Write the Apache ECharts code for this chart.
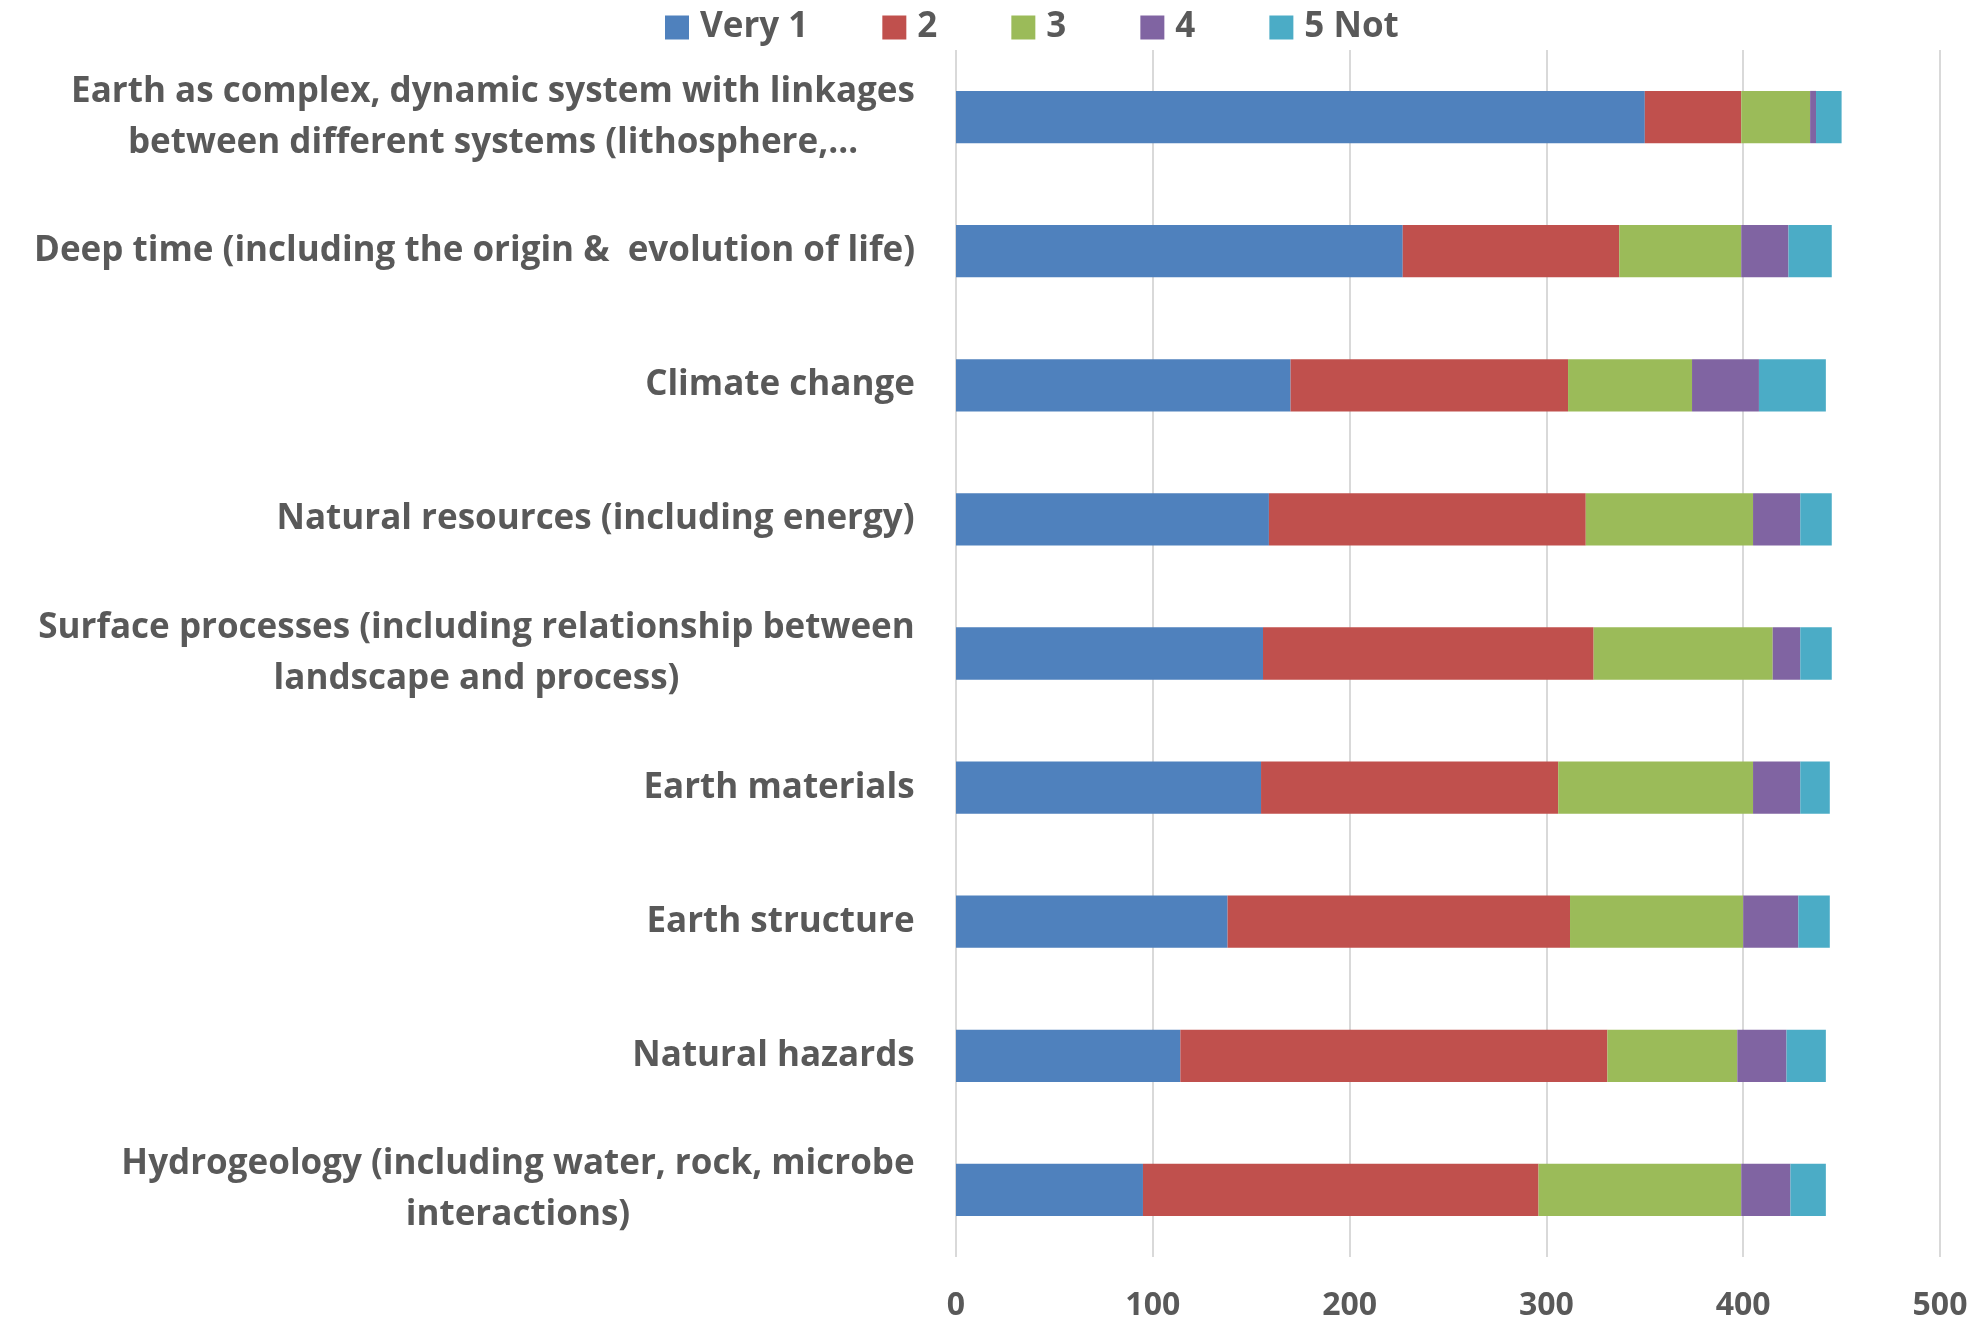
<!DOCTYPE html>
<html>
<head>
<meta charset="utf-8">
<title>Earth science topics – importance ratings</title>
<script src="https://cdn.jsdelivr.net/npm/echarts@6/dist/echarts.min.js"></script>
<style>
  html, body { margin: 0; padding: 0; background: #ffffff; }
  #chart { width: 1988px; height: 1322px; }
</style>
</head>
<body>
<div id="chart"></div>
<script>
// Topics, listed top to bottom
const categories = [
  'Earth as complex, dynamic system with linkages\nbetween different systems (lithosphere,…',
  'Deep time (including the origin &  evolution of life)',
  'Climate change',
  'Natural resources (including energy)',
  'Surface processes (including relationship between\nlandscape and process)',
  'Earth materials',
  'Earth structure',
  'Natural hazards',
  'Hydrogeology (including water, rock, microbe\ninteractions)'
];

// Number of responses per rating (1 = very important ... 5 = not important)
const seriesNames = ['Very 1', '2', '3', '4', '5 Not'];
const rating1 = [350, 227, 170, 159, 156, 155, 138, 114, 95];
const rating2 = [49, 110, 141, 161, 168, 151, 174, 217, 201];
const rating3 = [35, 62, 63, 85, 91, 99, 88, 66, 103];
const rating4 = [3, 24, 34, 24, 14, 24, 28, 25, 25];
const rating5 = [13, 22, 34, 16, 16, 15, 16, 20, 18];

// Value axis ticks
const axisMin = 0;
const axisMax = 500;
const axisStep = 100;

const colors = ['#4F81BD', '#C0504D', '#9BBB59', '#8064A2', '#4BACC6'];
const textColor = '#595959';
const fontFamily = 'Open Sans';
const fontSize = 35;
const tickFontSize = 32;
const fontWeight = 'bold';

// Multi-line labels: the block is right-aligned to the axis, each line centred
// within it, so each label gets a rich style as wide as its longest line.
const measureCtx = document.createElement('canvas').getContext('2d');
measureCtx.font = fontWeight + ' ' + fontSize + 'px "' + fontFamily + '"';
const labelRich = {};
categories.forEach(function (label, i) {
  const widest = Math.max.apply(null, label.split('\n').map(function (line) {
    return measureCtx.measureText(line).width;
  }));
  labelRich['c' + i] = {
    width: Math.ceil(widest) + 2,
    align: 'center',
    fontFamily: fontFamily,
    fontSize: fontSize,
    fontWeight: fontWeight,
    color: textColor,
    lineHeight: 51
  };
});

const seriesData = [rating1, rating2, rating3, rating4, rating5];

const chart = echarts.init(document.getElementById('chart'), null, { renderer: 'canvas' });

chart.setOption({
  backgroundColor: '#ffffff',
  animation: false,
  color: colors,
  legend: {
    data: seriesNames,
    left: 660,
    top: 5,
    icon: 'rect',
    itemWidth: 24,
    itemHeight: 24,
    itemGap: 74,
    textStyle: {
      fontFamily: fontFamily,
      fontSize: fontSize,
      fontWeight: fontWeight,
      color: textColor,
      padding: [0, 0, 0, 6]
    }
  },
  grid: {
    left: 956,
    right: 48,
    top: 50,
    bottom: 65,
    containLabel: false
  },
  xAxis: {
    type: 'value',
    min: axisMin,
    max: axisMax,
    interval: axisStep,
    axisLine: { show: false },
    axisTick: { show: false },
    splitLine: { show: true, lineStyle: { color: '#d9d9d9', width: 2 } },
    axisLabel: {
      margin: 33,
      fontFamily: fontFamily,
      fontSize: tickFontSize,
      fontWeight: fontWeight,
      color: textColor
    }
  },
  yAxis: {
    type: 'category',
    data: categories,
    inverse: true,
    axisLine: { show: false },
    axisTick: { show: false },
    splitLine: { show: false },
    axisLabel: {
      margin: 40,
      interval: 0,
      align: 'right',
      rich: labelRich,
      formatter: function (value, index) {
        return value.split('\n').map(function (line) {
          return '{c' + index + '|' + line + '}';
        }).join('\n');
      }
    }
  },
  series: seriesNames.map(function (name, i) {
    return {
      name: name,
      type: 'bar',
      stack: 'total',
      barWidth: '39%',
      data: seriesData[i],
      itemStyle: { color: colors[i] }
    };
  })
});
</script>
</body>
</html>
